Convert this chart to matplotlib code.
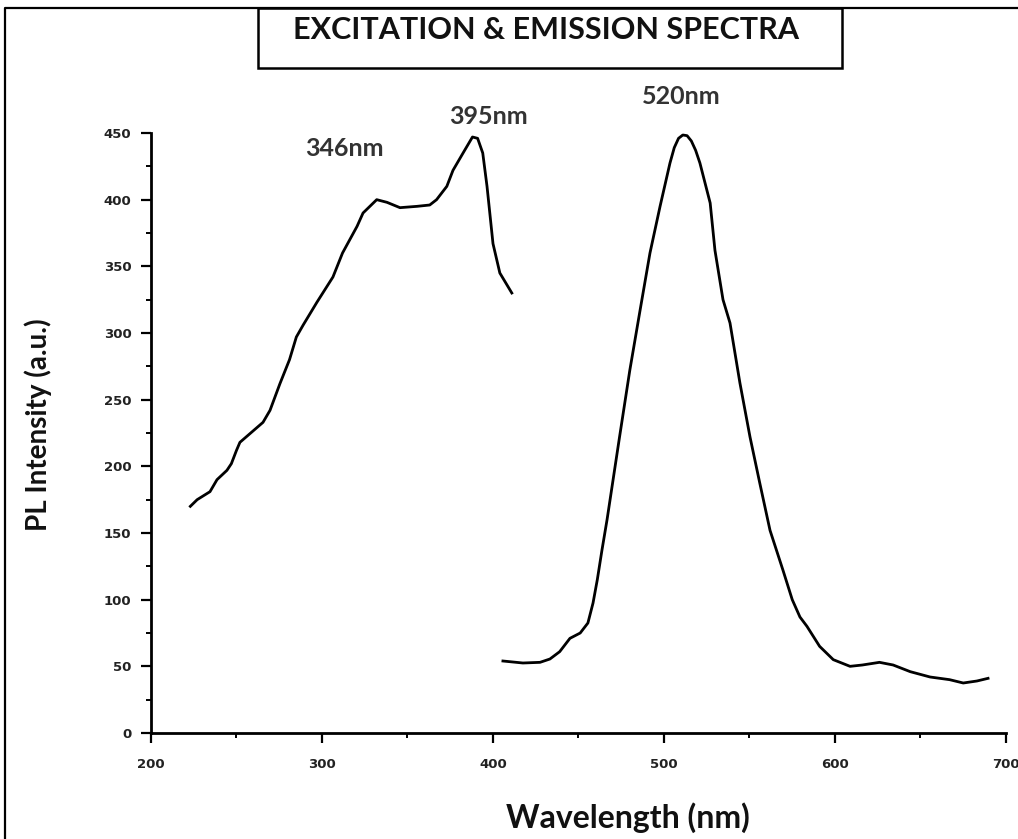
import matplotlib
matplotlib.use('Agg')
import matplotlib.pyplot as plt
from matplotlib.lines import Line2D
from matplotlib.patches import Rectangle
from matplotlib.ticker import MultipleLocator

# excitation spectrum
ex_wl = [223, 227, 234.5, 238.6, 244.4, 247, 250, 252, 265.5, 269.6, 275.4, 281, 285, 289,
         297, 306.4, 312, 320.5, 324, 332, 338, 345.6, 355.6, 363, 367, 373, 376.6, 382.5,
         388, 391, 394, 396.5, 400, 404, 411]
ex_int = [170, 175, 181, 190, 197, 202, 212, 218, 233, 242, 262, 280, 297, 306,
          323, 342, 360, 380, 390, 400, 398, 394, 395, 396, 400, 410, 422, 435,
          447, 446, 435, 410, 367, 345, 330]

# emission spectrum
em_wl = [405.8, 417.5, 427.5, 433.3, 439, 445, 451, 455.5, 458.5, 461, 463.7, 466.7, 474,
         480, 486, 491.8, 497.7, 503.5, 506, 508.5, 511, 513.5, 516, 518.5, 521, 527, 529.8,
         534.5, 538.6, 544.4, 550.3, 556, 562, 569.6, 575, 579.5, 583.6, 591, 599, 608.8,
         616, 626, 634, 644, 655.6, 667, 675, 683, 689.5]
em_int = [54, 52.5, 53, 55.5, 61, 71, 75, 82.5, 97.5, 115, 137, 160, 222,
          272, 317, 360, 395, 427.5, 439, 446, 448.5, 448, 444, 437, 427.5, 397.5, 362,
          325, 307.5, 262.5, 222, 187.5, 152, 122, 100, 87, 80, 65, 55, 50,
          51, 53, 51, 46, 42, 40, 37.5, 39, 41]

peak_labels = ['346nm', '395nm', '520nm']
peak_pos = [(344, 149), (488, 117), (681, 97)]  # pixel centres of the labels

W, H = 1018, 839
fig = plt.figure(figsize=(W / 100, H / 100), dpi=100)
ax = fig.add_axes([151 / W, 1 - 733 / H, (1006 - 151) / W, (733 - 133) / H])

ax.plot(ex_wl, ex_int, color='black', lw=2.0, solid_joinstyle='round')
ax.plot(em_wl, em_int, color='black', lw=2.0, solid_joinstyle='round')

ax.set_xlim(200, 700)
ax.set_ylim(0, 450)
ax.xaxis.set_major_locator(MultipleLocator(100))
ax.xaxis.set_minor_locator(MultipleLocator(50))
ax.yaxis.set_major_locator(MultipleLocator(50))
ax.yaxis.set_minor_locator(MultipleLocator(25))
for s in ['top', 'right']:
    ax.spines[s].set_visible(False)
for s in ['left', 'bottom']:
    ax.spines[s].set_linewidth(2)
ax.tick_params(which='major', direction='out', length=7, width=1.6, labelsize=9.5, color='black')
ax.tick_params(axis='x', which='major', pad=11)
ax.tick_params(axis='y', which='major', pad=7)
ax.tick_params(which='minor', direction='out', length=3.5, width=1.4)
for lab in ax.get_xticklabels() + ax.get_yticklabels():
    lab.set_fontweight('bold')
    lab.set_family('DejaVu Sans')
    lab.set_color('#222222')

fig.text(628 / W, 1 - 818 / H, 'Wavelength (nm)', ha='center', va='center',
         fontsize=23, fontweight='bold', family='Lato', color='#111111')
fig.text(38 / W, 1 - 425 / H, 'PL Intensity (a.u.)', ha='center', va='center', rotation=90,
         fontsize=20, fontweight='bold', family='Lato', color='#111111')

for txt, (px, py) in zip(peak_labels, peak_pos):
    fig.text(px / W, 1 - py / H, txt, ha='center', va='center', fontsize=18,
             fontweight='bold', family='Lato', color='#333333')

# title box
fig.patches.append(Rectangle((258 / W, 1 - 68 / H), (842 - 258) / W, 60 / H,
                             transform=fig.transFigure, fill=False, lw=1.8, ec='black'))
fig.text(546 / W, 1 - 30 / H, 'EXCITATION & EMISSION SPECTRA', ha='center', va='center',
         fontsize=22, fontweight='bold', family='Lato', color='#111111')

# outer frame (top and left edge visible)
fig.lines.append(Line2D([5 / W, 5 / W, 1], [0, 1 - 8 / H, 1 - 8 / H],
                        transform=fig.transFigure, color='black', lw=1.6))

fig.savefig('out.png', dpi=100)
